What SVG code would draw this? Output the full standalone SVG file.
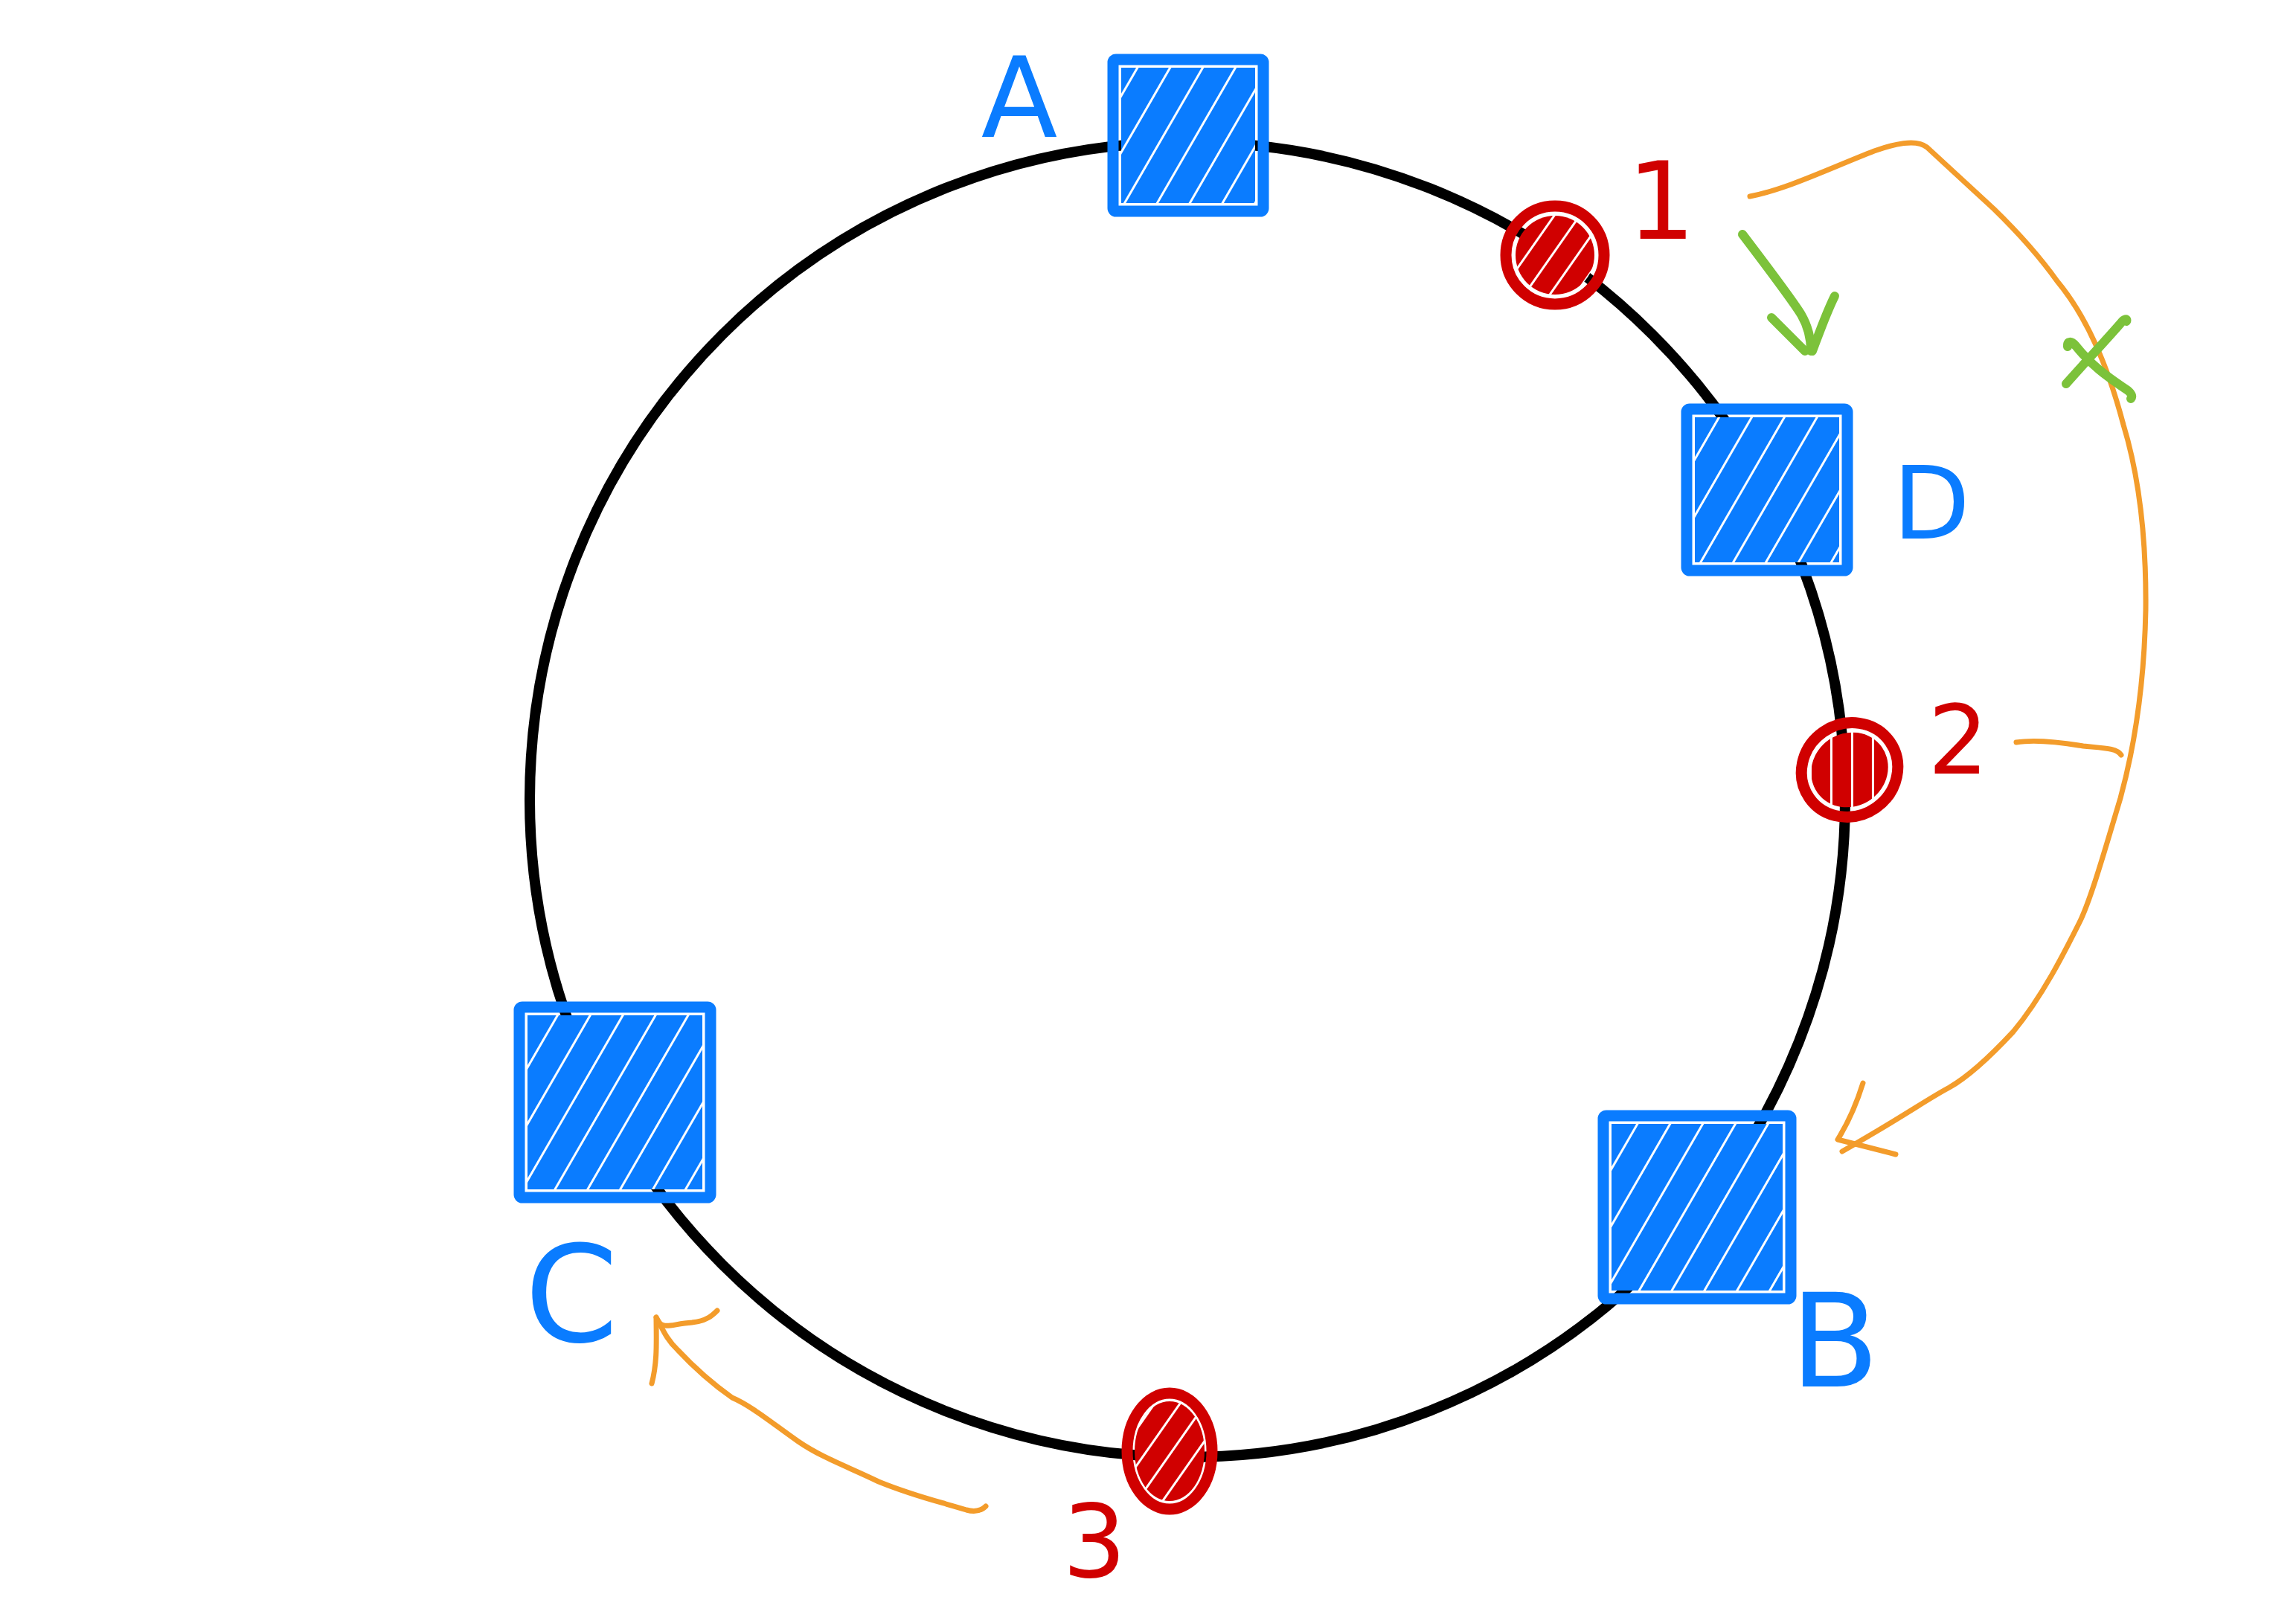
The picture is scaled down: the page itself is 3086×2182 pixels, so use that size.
<svg xmlns="http://www.w3.org/2000/svg" width="3086" height="2182" viewBox="0 0 3086 2182">
<style>
.ring{fill:none;stroke:#000;stroke-width:14}
.srv{fill:none;stroke:#0A7CFF;stroke-width:15;stroke-linejoin:round}
.srvf{fill:url(#hatchBlue)}
.key{fill:none;stroke:#D00000;stroke-width:15}
.keyf{fill:url(#hatchRed)}
.lblB{font-family:"DejaVu Sans",sans-serif;fill:#0A7CFF;text-anchor:middle}
.lblR{font-family:"DejaVu Sans",sans-serif;fill:#D00000;text-anchor:middle}
.or{fill:none;stroke:#F39C2B;stroke-width:7;stroke-linecap:round;stroke-linejoin:round}
.gr{fill:none;stroke:#7CC23A;stroke-width:12;stroke-linecap:round;stroke-linejoin:round}
</style>
<defs>
<pattern id="hatchBlue" width="38" height="38" patternUnits="userSpaceOnUse" patternTransform="rotate(30)">
<rect width="38" height="38" fill="#0A7CFF"/>
<rect x="0" y="0" width="3" height="38" fill="#fff"/>
</pattern>
<pattern id="hatchRed" width="28" height="28" patternUnits="userSpaceOnUse" patternTransform="rotate(35)">
<rect width="28" height="28" fill="#D00000"/>
<rect x="0" y="0" width="3" height="28" fill="#fff"/>
</pattern>
</defs>
<rect width="3086" height="2182" fill="#fff"/>
<g id="ring"><circle class="ring" cx="1596" cy="1075" r="884"/></g>
<g id="connectors">
<path class="or" d="M2352,264 C2400,255 2460,226 2519,203 C2545,194 2575,186 2590,198 L2680,281 C2720,320 2745,350 2765,378 C2800,420 2830,480 2854,571 C2875,640 2885,720 2884,820 C2882,920 2870,1000 2850,1073 C2830,1140 2810,1210 2795,1240 C2775,1280 2745,1340 2706,1387 C2680,1415 2650,1445 2620,1462 C2590,1478 2560,1500 2476,1548"/>
<path class="or" d="M2504,1456 C2495,1485 2485,1508 2470,1532 L2548,1552"/>
<path class="or" d="M2710,998 C2735,994 2770,998 2800,1003 C2830,1006 2845,1006 2851,1015"/>
<path class="or" d="M1325,2025 C1318,2032 1310,2033 1299,2030 C1260,2018 1230,2012 1181,1992 C1140,1972 1105,1960 1073,1938 C1040,1915 1010,1890 984,1879 C950,1855 925,1830 911,1815 C895,1800 890,1785 882,1771"/>
<path class="or" d="M876,1860 C884,1830 882,1800 882,1771 C890,1790 900,1780 930,1778 C950,1776 958,1768 964,1762"/>
<path class="gr" d="M2342,315 C2380,365 2410,405 2421,423 C2432,442 2434,460 2434,472"/>
<path class="gr" d="M2381,427 L2426,472 M2466,398 C2455,420 2448,440 2436,472"/>
<g id="x-mark">
<path class="gr" d="M2777,516 C2800,490 2830,458 2850,435 C2855,428 2860,428 2858,432"/>
<path class="gr" d="M2779,466 C2778,458 2784,458 2790,465 C2810,490 2830,505 2860,525 C2866,530 2866,534 2864,536"/>
</g>
</g>
<g id="node-A">
<rect class="srvf" x="1507" y="91" width="180" height="182"/>
<rect class="srv" x="1496" y="80" width="202" height="204" rx="4"/>
<text class="lblB" x="1370" y="184" font-size="150">A</text>
</g>
<g id="node-D">
<rect class="srvf" x="2278" y="561" width="194" height="195"/>
<rect class="srv" x="2267" y="550" width="216" height="217" rx="4"/>
<text class="lblB" x="2596" y="724" font-size="135">D</text>
</g>
<g id="node-B">
<rect class="srvf" x="2166" y="1511" width="230" height="224"/>
<rect class="srv" x="2155" y="1500" width="252" height="246" rx="4"/>
<text class="lblB" x="2466" y="1864" font-size="175">B</text>
</g>
<g id="node-C">
<rect class="srvf" x="709" y="1365" width="235" height="234"/>
<rect class="srv" x="698" y="1354" width="257" height="256" rx="4"/>
<text class="lblB" x="768" y="1803" font-size="180">C</text>
</g>
<g id="key-1">
<circle class="keyf" cx="2090" cy="343" r="53"/>
<circle class="key" cx="2090" cy="343" r="66"/>
<text class="lblR" x="2233" y="321" font-size="145">1</text>
</g>
<g id="key-2">
<ellipse class="keyf" cx="2486" cy="1035" rx="53" ry="49" transform="rotate(-35 2486 1035)"/>
<ellipse class="key" cx="2486" cy="1035" rx="66" ry="62" transform="rotate(-35 2486 1035)"/>
<text class="lblR" x="2632" y="1040" font-size="128">2</text>
</g>
<g id="key-3">
<ellipse class="keyf" cx="1572" cy="1951" rx="47" ry="67"/>
<ellipse class="key" cx="1572" cy="1951" rx="57" ry="78"/>
<text class="lblR" x="1471" y="2120" font-size="135">3</text>
</g>
</svg>
